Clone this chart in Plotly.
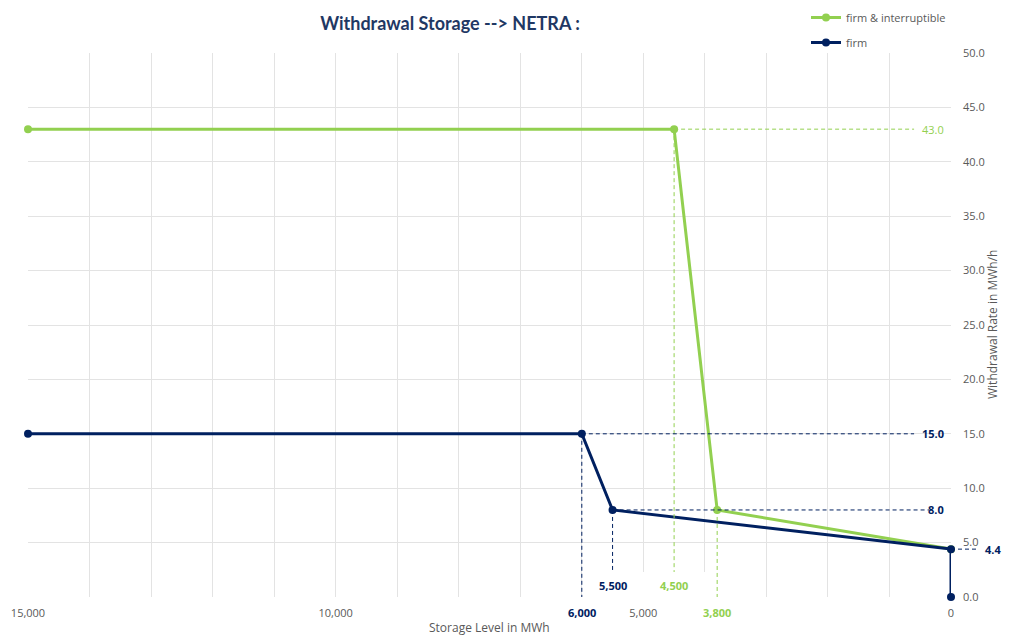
import plotly.graph_objects as go

# ---- data ----
fi_storage = [15000, 4500, 3800, 0]
fi_rate = [43.0, 43.0, 8.0, 4.4]
firm_storage = [15000, 6000, 5500, 0, 0]
firm_rate = [15.0, 15.0, 8.0, 4.4, 0.0]
x_tickvals = [15000, 10000, 5000, 0]
x_ticktext = ["15,000", "10,000", "5,000", "0"]

GREEN = "#92D050"
NAVY = "#002060"
GRAY = "#595959"
GRID = "#E3E3E3"
FONT = "Open Sans"
DASH = "4px,3px"

OFF = 8  # page body offset
W, H = 1002, 628
L, R, T, B = 20, 59, 45, 39
PW = W - L - R
PH = H - T - B

fig = go.Figure()

fig.add_trace(go.Scatter(
    x=fi_storage, y=fi_rate, mode="lines+markers", name="firm & interruptible",
    line=dict(color=GREEN, width=3), marker=dict(color=GREEN, size=8),
    legendgroup="a", cliponaxis=False))
fig.add_trace(go.Scatter(
    x=firm_storage, y=firm_rate, mode="lines+markers", name="firm",
    line=dict(color=NAVY, width=3), marker=dict(color=NAVY, size=8),
    legendgroup="b", cliponaxis=False))

shapes = []
# white box behind lower labels
shapes.append(dict(type="rect", xref="x", yref="y", x0=5900, x1=3950, y0=0, y1=2.3,
                   fillcolor="white", line=dict(width=0), layer="between"))

def hline(x0, x1, y, color, xref="x"):
    shapes.append(dict(type="line", xref=xref, yref="y", x0=x0, x1=x1, y0=y, y1=y,
                       line=dict(color=color, width=1, dash=DASH), layer="above"))

def vline(x, y0, y1, color):
    shapes.append(dict(type="line", xref="x", yref="y", x0=x, x1=x, y0=y0, y1=y1,
                       line=dict(color=color, width=1, dash=DASH), layer="above"))

# helper lines
hline(fi_storage[1], 600, fi_rate[1], GREEN)
vline(fi_storage[1], fi_rate[1], 2.3, GREEN)
vline(fi_storage[2], fi_rate[2], 0, GREEN)
hline(firm_storage[1], 600, firm_rate[1], NAVY)
vline(firm_storage[1], firm_rate[1], 0, NAVY)
hline(firm_storage[2], 350, firm_rate[2], NAVY)
vline(firm_storage[2], firm_rate[2], 2.3, NAVY)
shapes.append(dict(type="line", xref="paper", yref="y", x0=1.0, x1=1.028,
                   y0=firm_rate[3], y1=firm_rate[3],
                   line=dict(color=NAVY, width=1, dash=DASH), layer="above"))

annotations = []
def lab(text, x, y, color, xref="x", xanchor="center", yshift=0, bold=True):
    annotations.append(dict(text=f"<b>{text}</b>" if bold else text, x=x, y=y, xref=xref, yref="y",
                            showarrow=False, xanchor=xanchor, yanchor="middle", yshift=yshift,
                            font=dict(family=FONT, size=11, color=color)))

lab("43.0", 0.995, fi_rate[1], GREEN, xref="paper", xanchor="right", bold=False)
lab("15.0", 0.995, firm_rate[1], NAVY, xref="paper", xanchor="right")
lab("8.0", 0.995, firm_rate[2], NAVY, xref="paper", xanchor="right")
lab("4.4", (983 - OFF - L) / PW, firm_rate[3], NAVY, xref="paper", xanchor="left")
lab(f"{firm_storage[2]:,}", firm_storage[2], 0, NAVY, yshift=12)
lab(f"{fi_storage[1]:,}", fi_storage[1], 0, GREEN, yshift=12)
lab(f"{firm_storage[1]:,}", firm_storage[1], 0, NAVY, yshift=-15)
lab(f"{fi_storage[2]:,}", fi_storage[2], 0, GREEN, yshift=-15)

# axis titles as annotations
annotations.append(dict(text="Storage Level in MWh", xref="paper", yref="paper",
                        x=0.5, y=-(627 - OFF - (H - B)) / PH, xanchor="center", yanchor="middle",
                        showarrow=False, font=dict(family=FONT, size=12, color=GRAY)))
annotations.append(dict(text="Withdrawal Rate in MWh/h", xref="paper", yref="paper",
                        x=(992 - OFF - L) / PW, y=0.5, xanchor="center", yanchor="middle",
                        textangle=-90, showarrow=False,
                        font=dict(family=FONT, size=12, color=GRAY)))

fig.update_layout(
    width=W, height=H,
    margin=dict(l=L, r=R, t=T, b=B, autoexpand=False),
    paper_bgcolor="white", plot_bgcolor="white",
    font=dict(family=FONT, color=GRAY, size=11),
    title=dict(text="<b>Withdrawal Storage --> NETRA :</b>", x=(450 - OFF)/W, xref="container",
               xanchor="center", y=1 - (24 - OFF)/H, yref="container", yanchor="middle",
               font=dict(family="Lato", size=18, color="#1F3864")),
    showlegend=True,
    legend=dict(x=(806 - OFF)/W, xref="container", xanchor="left",
                y=((H - B) - (-5)) / PH, yref="paper",
                yanchor="top", font=dict(family=FONT, size=11, color=GRAY),
                tracegroupgap=6, bgcolor="rgba(0,0,0,0)"),
    xaxis=dict(range=[15000, 0], tickvals=x_tickvals, ticktext=x_ticktext,
               showgrid=True, gridcolor=GRID, gridwidth=1, zeroline=False,
               minor=dict(dtick=1000, showgrid=True, gridcolor=GRID, gridwidth=1),
               ticks="", showline=False, ticklabelstandoff=8,
               tickfont=dict(family=FONT, size=11, color=GRAY)),
    yaxis=dict(range=[0, 50], dtick=5, tickformat=".1f", side="right",
               showgrid=True, gridcolor=GRID, gridwidth=1, zeroline=False,
               ticks="", showline=False, ticklabelstandoff=11,
               tickfont=dict(family=FONT, size=11, color=GRAY)),
    shapes=shapes, annotations=annotations,
)

fig.write_html("out.html")
